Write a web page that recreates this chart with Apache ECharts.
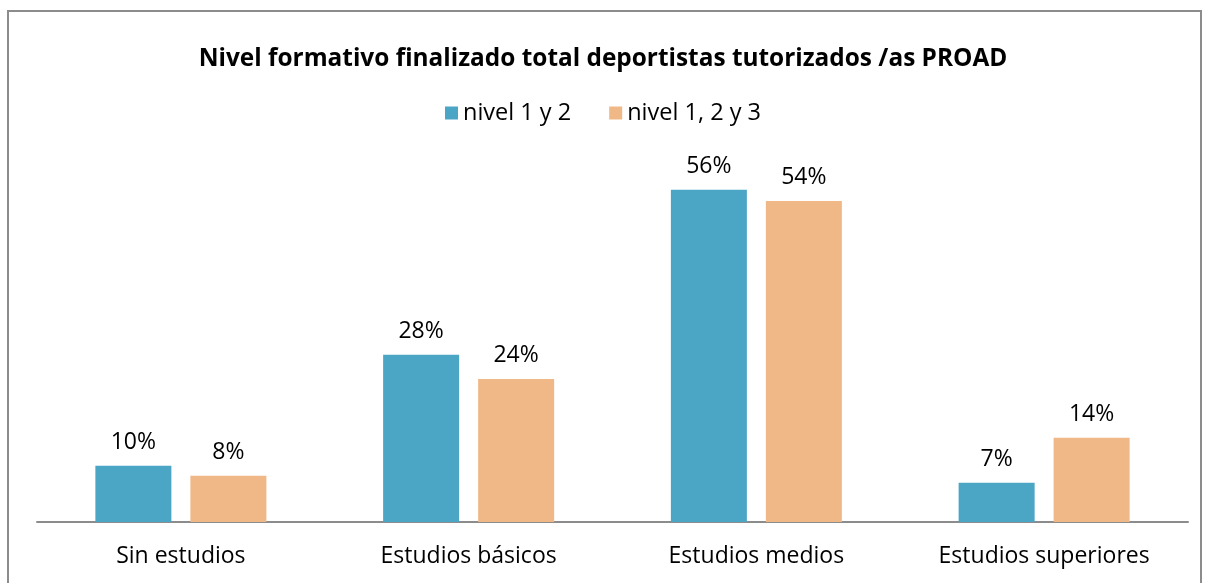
<!DOCTYPE html>
<html>
<head>
<meta charset="utf-8">
<script src="https://cdn.jsdelivr.net/npm/echarts@6/dist/echarts.min.js"></script>
<style>
  html, body { margin: 0; padding: 0; background: #fff; }
  #wrap { position: relative; width: 1206px; height: 583px; overflow: hidden; }
  .frame { position: absolute; left: 7px; top: 10px; width: 1195px; height: 600px; border: 2px solid #8c8c8c; box-sizing: border-box; }
  #myChart { position: absolute; left: 0; top: 0; width: 1206px; height: 583px; }
</style>
</head>
<body>
<div id="wrap">
  <div class="frame"></div>
  <div id="myChart"></div>
</div>
<script>
const categories = ['Sin estudios', 'Estudios básicos', 'Estudios medios', 'Estudios superiores']
const seriesNames = ['nivel 1 y 2', 'nivel 1, 2 y 3']
const nivel12 = [9.5, 28.2, 56.0, 6.6]
const nivel123 = [7.8, 24.1, 54.1, 14.2]
const colors = ['#4ba6c6', '#f0b887']

const fontFamily = '"Open Sans", sans-serif'

const label = {
  show: true,
  position: 'top',
  distance: 12,
  color: '#000',
  fontSize: 23,
  fontFamily: fontFamily,
  formatter: (p) => Math.round(p.value) + '%'
}

const myChart = echarts.init(document.getElementById('myChart'))
myChart.setOption({
  color: colors,
  animation: false,
  title: {
    text: 'Nivel formativo finalizado total deportistas tutorizados /as PROAD',
    left: 'center',
    top: 42,
    textStyle: { fontSize: 24.4, fontWeight: 'bold', color: '#000', fontFamily: fontFamily }
  },
  legend: {
    data: seriesNames,
    top: 96,
    left: 'center',
    itemWidth: 13,
    itemHeight: 13,
    itemGap: 38,
    icon: 'rect',
    textStyle: { fontSize: 23.5, color: '#000', fontFamily: fontFamily }
  },
  grid: { left: 37, right: 18, top: 166, bottom: 61 },
  xAxis: {
    type: 'category',
    data: categories,
    axisLine: { lineStyle: { color: '#8c8c8c', width: 2 } },
    axisTick: { show: false },
    axisLabel: { color: '#000', fontSize: 23, margin: 23, fontFamily: fontFamily }
  },
  yAxis: {
    type: 'value',
    min: 0,
    max: 60,
    show: false,
    splitLine: { show: false }
  },
  series: [
    { name: seriesNames[0], type: 'bar', data: nivel12, barWidth: 76, barGap: '25%', label: label },
    { name: seriesNames[1], type: 'bar', data: nivel123, barWidth: 76, barGap: '25%', label: label }
  ]
})
</script>
</body>
</html>
